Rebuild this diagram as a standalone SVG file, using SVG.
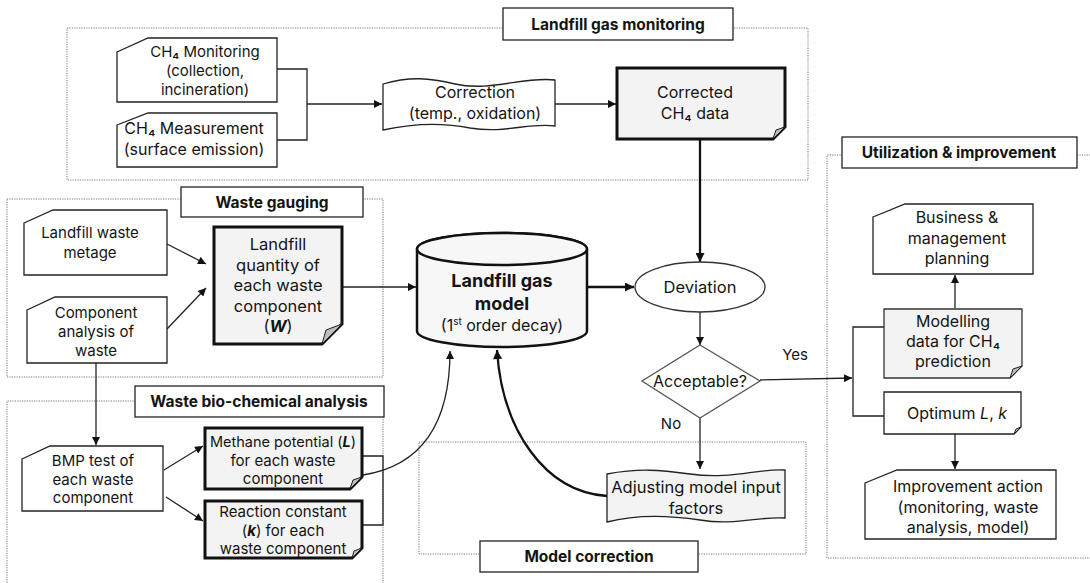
<svg xmlns="http://www.w3.org/2000/svg" width="1090" height="583" viewBox="0 0 1090 583">
<style>
text{font-family:Inter,"Noto Sans","Liberation Sans",sans-serif;fill:#141414;text-anchor:middle}
.t{font-size:16px}
.s{font-size:15px}
.h{font-size:15.5px;font-weight:bold}
.grp{fill:none;stroke:#777;stroke-width:1;stroke-dasharray:1.2 1.2}
.tb{fill:#fff;stroke:#222;stroke-width:1.3}
.card{fill:#fff;stroke:#222;stroke-width:1.3}
.note{fill:#f3f3f3;stroke:#111;stroke-width:3}
.notethin{fill:#f3f3f3;stroke:#333;stroke-width:1.3}
.fold{fill:#bdbdbd;stroke:#222;stroke-width:1}
.c{fill:none;stroke:#222;stroke-width:1.3}
.ck{fill:none;stroke:#111;stroke-width:2.3}
.bi{font-weight:bold;font-style:italic}
</style>
<defs>
<marker id="a" viewBox="0 0 10 10" refX="10" refY="5" markerWidth="9" markerHeight="8" markerUnits="userSpaceOnUse" orient="auto"><path d="M0,0 L10,5 L0,10 Z" fill="#111"/></marker>
<marker id="ak" viewBox="0 0 10 10" refX="10" refY="5" markerWidth="10" markerHeight="9" markerUnits="userSpaceOnUse" orient="auto"><path d="M0,0 L10,5 L0,10 Z" fill="#111"/></marker>
</defs>

<g id="groups">
<rect class="grp" x="67" y="28" width="741" height="152"/>
<rect class="grp" x="7" y="199" width="376" height="178"/>
<path class="grp" d="M7,590 V401 H383 V590"/>
<rect class="grp" x="419" y="442" width="387" height="112"/>
<path class="grp" d="M1095,155 H827 V558 H1095"/>
</g>

<g id="connectors">
<polyline class="c" points="277,69 307,69 307,140 277,140"/>
<line class="c" x1="307" y1="104" x2="382" y2="104" marker-end="url(#a)"/>
<line class="c" x1="555" y1="104" x2="616" y2="104" marker-end="url(#a)"/>
<line class="ck" x1="700" y1="139" x2="700" y2="262" marker-end="url(#ak)"/>
<line class="c" x1="167" y1="244" x2="206" y2="264" marker-end="url(#a)"/>
<line class="c" x1="167" y1="329" x2="206" y2="288" marker-end="url(#a)"/>
<line class="c" x1="96" y1="363" x2="96" y2="445" marker-end="url(#a)"/>
<line class="c" x1="164" y1="470" x2="203" y2="446" marker-end="url(#a)"/>
<line class="c" x1="166" y1="497" x2="203" y2="521" marker-end="url(#a)"/>
<polyline class="c" points="362,456 383,456 383,525 362,525"/>
<path class="c" d="M363,475 C420,466 450,425 450,351" marker-end="url(#a)"/>
<line class="c" x1="342" y1="287" x2="416" y2="287" marker-end="url(#a)"/>
<path class="ck" d="M607,496 C545,492 502,430 497,350" marker-end="url(#ak)"/>
<line class="ck" x1="587" y1="287" x2="634" y2="287" marker-end="url(#ak)"/>
<line class="c" x1="700" y1="312" x2="700" y2="345" marker-end="url(#a)"/>
<line class="c" x1="760" y1="380" x2="852" y2="378" marker-end="url(#a)"/>
<polyline class="c" points="884,327 853,327 853,416 884,416"/>
<line class="c" x1="700" y1="418" x2="700" y2="469" marker-end="url(#a)"/>
<line class="c" x1="955" y1="308" x2="955" y2="275" marker-end="url(#a)"/>
<line class="c" x1="955" y1="434" x2="955" y2="469" marker-end="url(#a)"/>
<text class="s" x="795" y="360">Yes</text>
<text class="s" x="671" y="429">No</text>
</g>

<g id="title-monitoring">
<rect class="tb" x="503" y="8" width="230" height="32"/>
<text class="h" x="618" y="30">Landfill gas monitoring</text>
</g>
<g id="title-gauging">
<rect class="tb" x="181" y="187" width="182" height="30"/>
<text class="h" x="272" y="208">Waste gauging</text>
</g>
<g id="title-biochem">
<rect class="tb" x="135" y="386" width="249" height="31"/>
<text class="h" x="259" y="407">Waste bio-chemical analysis</text>
</g>
<g id="title-model">
<rect class="tb" x="480" y="541" width="218" height="31"/>
<text class="h" x="589" y="562">Model correction</text>
</g>
<g id="title-util">
<rect class="tb" x="842" y="137" width="235" height="31"/>
<text class="h" x="959" y="158">Utilization &amp; improvement</text>
</g>

<g id="ch4-monitoring">
<path class="card" d="M117,52 L148,38 H277 V102 H117 Z"/>
<text class="s" x="205" y="57"><tspan x="205">CH₄ Monitoring</tspan><tspan x="205" dy="19">(collection,</tspan><tspan x="205" dy="19">incineration)</tspan></text>
</g>
<g id="ch4-measurement">
<path class="card" d="M117,125 L148,113 H277 V167 H117 Z"/>
<text class="t" x="194" y="134"><tspan x="194">CH₄ Measurement</tspan><tspan x="194" dy="20.5">(surface emission)</tspan></text>
</g>
<g id="correction">
<path class="card" d="M383,84 C410,76 430,78 455,84 C490,92 525,76 555,80 V126 C530,122 505,134 470,128 C440,122 410,124 383,130 Z"/>
<text class="t" x="475" y="98"><tspan x="475">Correction</tspan><tspan x="475" dy="20.5">(temp., oxidation)</tspan></text>
</g>
<g id="corrected-data">
<path class="note" d="M617,68 H785 V127 L773,139 H617 Z"/>
<path class="fold" d="M773,139 L785,127 L776,130 Z"/>
<text class="t" x="695" y="98"><tspan x="695">Corrected</tspan><tspan x="695" dy="21">CH₄ data</tspan></text>
</g>

<g id="waste-metage">
<path class="card" d="M24,223 L53,210 H167 V275 H24 Z"/>
<text class="s" x="90" y="238"><tspan x="90">Landfill  waste</tspan><tspan x="90" dy="20">metage</tspan></text>
</g>
<g id="component-analysis">
<path class="card" d="M27,310 L55,297 H167 V363 H27 Z"/>
<text class="s" x="96" y="318"><tspan x="96">Component</tspan><tspan x="96" dy="19">analysis  of</tspan><tspan x="96" dy="19">waste</tspan></text>
</g>
<g id="landfill-quantity">
<path class="note" d="M214,227 H342 V324 L322,344 H214 Z"/>
<path class="fold" d="M322,344 L342,324 L326,330 Z"/>
<text x="278" y="250" font-size="16.5"><tspan x="278">Landfill</tspan><tspan x="278" dy="20.5">quantity of</tspan><tspan x="278" dy="20.5">each waste</tspan><tspan x="278" dy="20.5">component</tspan><tspan x="278" dy="20.5">(<tspan class="bi">W</tspan>)</tspan></text>
</g>

<g id="bmp-test">
<path class="card" d="M22,459 L50,446 H163 V511 H22 Z"/>
<text class="s" x="93" y="466"><tspan x="93">BMP test  of</tspan><tspan x="93" dy="18.5">each waste</tspan><tspan x="93" dy="18.5">component</tspan></text>
</g>
<g id="methane-potential">
<path class="note" d="M205,428 H362 V477 L350,489 H205 Z"/>
<path class="fold" d="M350,489 L362,477 L353,480 Z"/>
<text class="s" x="283" y="447"><tspan x="283" font-size="14.5">Methane potential  (<tspan class="bi">L</tspan>)</tspan><tspan x="283" dy="18.5">for each waste</tspan><tspan x="283" dy="18.5">component</tspan></text>
</g>
<g id="reaction-constant">
<path class="note" d="M205,501 H362 V548 L352,558 H205 Z"/>
<path class="fold" d="M352,558 L362,548 L354,551 Z"/>
<text class="s" x="283" y="517"><tspan x="283">Reaction  constant</tspan><tspan x="283" dy="18.5">(<tspan class="bi">k</tspan>) for each</tspan><tspan x="283" dy="18.5">waste component</tspan></text>
</g>

<g id="landfill-gas-model">
<path d="M417,249 V331 A85,16 0 0 0 587,331 V249 A85,16 0 0 0 417,249 Z" fill="#f7f7f7" stroke="#111" stroke-width="2.5"/>
<ellipse cx="502" cy="249" rx="85" ry="16" fill="#f7f7f7" stroke="#111" stroke-width="2.5"/>
<text x="502" y="287" font-size="18" font-weight="bold"><tspan x="502">Landfill  gas</tspan><tspan x="502" dy="23">model</tspan></text>
<text x="502" y="331" font-size="16">(1<tspan font-size="10" baseline-shift="super">st</tspan> order decay)</text>
</g>

<g id="deviation">
<ellipse cx="700" cy="287" rx="65" ry="25" fill="#fff" stroke="#333" stroke-width="1.3"/>
<text x="700" y="293" font-size="16.5">Deviation</text>
</g>
<g id="acceptable">
<path d="M700,345 L760,381 L700,418 L642,381 Z" fill="#fff" stroke="#555" stroke-width="1.3"/>
<text x="700" y="387" font-size="16">Acceptable?</text>
</g>
<g id="adjusting">
<path class="card" style="fill:#f3f3f3" d="M607,474 C640,468 660,470 690,474 C730,480 760,468 785,470 V518 C760,516 735,526 700,520 C660,514 630,516 607,522 Z"/>
<text x="696" y="493" font-size="16.5"><tspan x="696">Adjusting model input</tspan><tspan x="696" dy="20.5">factors</tspan></text>
</g>

<g id="business-planning">
<path class="card" d="M873,217 L905,204 H1033 V274 H873 Z"/>
<text class="t" x="957" y="223"><tspan x="957">Business &amp;</tspan><tspan x="957" dy="20.5">management</tspan><tspan x="957" dy="20.5">planning</tspan></text>
</g>
<g id="modelling-data">
<path class="notethin" d="M884,309 H1022 V366 L1010,378 H884 Z"/>
<path class="fold" d="M1010,378 L1022,366 L1013,369 Z"/>
<text class="t" x="953" y="327"><tspan x="953">Modelling</tspan><tspan x="953" dy="20">data for CH₄</tspan><tspan x="953" dy="20">prediction</tspan></text>
</g>
<g id="optimum">
<path class="card" d="M884,392 H1021 V427 L1014,434 H884 Z"/>
<path class="fold" d="M1014,434 L1021,427 L1016,429 Z"/>
<text class="t" x="957" y="419">Optimum <tspan font-style="italic">L</tspan>, <tspan font-style="italic">k</tspan></text>
</g>
<g id="improvement-action">
<path class="card" d="M865,483 L897,470 H1056 V539 H865 Z"/>
<text class="t" x="968" y="492"><tspan x="968">Improvement action</tspan><tspan x="968" dy="20.5">(monitoring, waste</tspan><tspan x="968" dy="20">analysis, model)</tspan></text>
</g>
</svg>
